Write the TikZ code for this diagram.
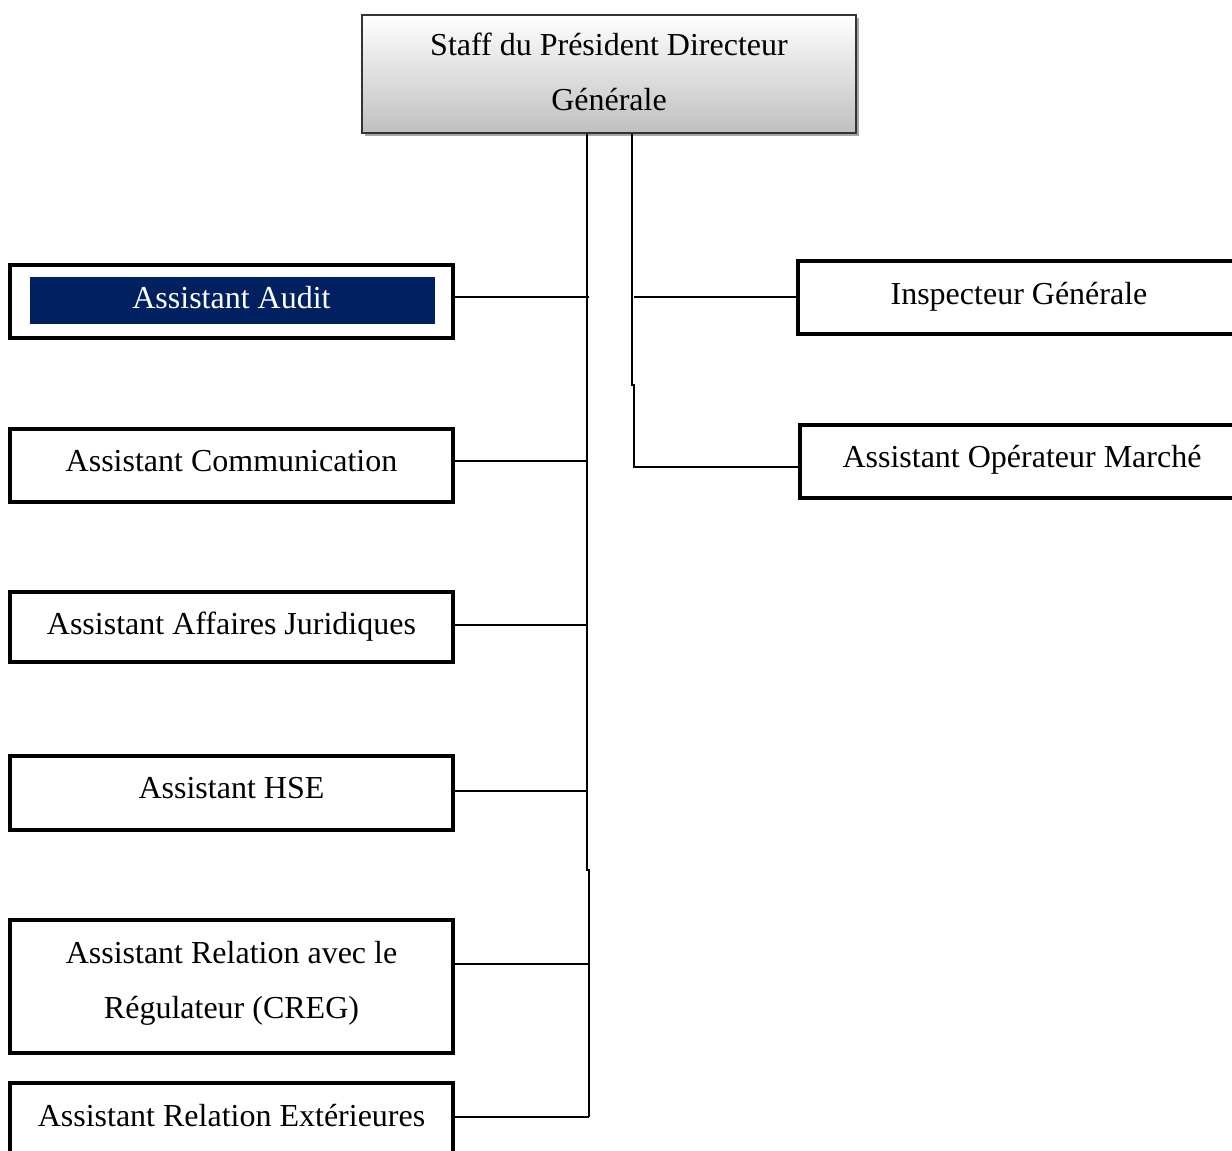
\documentclass[tikz,border=0pt]{standalone}
\usepackage{fontspec}
\setmainfont{Liberation Serif}
\usetikzlibrary{shadows}
\definecolor{navy}{HTML}{002060}
\begin{document}
\begin{tikzpicture}[x=1pt,y=-1pt,
  txt/.style={font=\fontsize{32}{55}\selectfont},
  unit/.style={draw=black, line width=4pt, fill=white, rectangle, inner sep=0pt,
    minimum width=443pt},
  caption/.style={txt, align=center, inner sep=0pt, yshift=4pt},
  link/.style={draw=black, line width=1.6pt}]
\useasboundingbox (0,0) rectangle (1232,1151);
\clip (0,0) rectangle (1232,1151);

% head of the staff
\node[draw=black!80, line width=2pt, top color=white, bottom color=black!25,
  minimum width=494pt, minimum height=118pt, inner sep=0pt,
  general shadow={fill=black!35, shadow xshift=3pt, shadow yshift=-3pt}]
  (top) at (609,74) {};
\node[caption, yshift=-2pt] (toplbl) at (top) {Staff du Président Directeur\\Générale};

% left column
\node[unit, minimum height=73pt] (audit) at (231.5,301.5) {};
\node[fill=navy, minimum width=405pt, minimum height=47pt, inner sep=0pt]
  (auditfill) at (232.5,300.5) {};
\node[caption, text=white] (auditlbl) at (audit) {Assistant Audit};

\node[unit, minimum height=73pt] (comm) at (231.5,465.5) {};
\node[caption] (commlbl) at (comm) {Assistant Communication};

\node[unit, minimum height=70pt] (jur) at (231.5,627) {};
\node[caption, yshift=-4pt] (jurlbl) at (jur) {Assistant Affaires Juridiques};

\node[unit, minimum height=74pt] (hse) at (231.5,793) {};
\node[caption, yshift=1pt] (hselbl) at (hse) {Assistant HSE};

\node[unit, minimum height=133pt] (creg) at (231.5,986.5) {};
\node[caption, yshift=-1pt] (creglbl) at (creg) {Assistant Relation avec le\\Régulateur (CREG)};

\node[unit, minimum height=74pt] (ext) at (231.5,1120) {};
\node[caption] (extlbl) at (ext) {Assistant Relation Extérieures};

% right column
\node[unit, minimum width=442pt, minimum height=73pt] (insp) at (1019,297.5) {};
\node[caption, yshift=-3pt] (insplbl) at (insp) {Inspecteur Générale};

\node[unit, minimum width=444pt, minimum height=73pt] (oper) at (1022,461.5) {};
\node[caption, yshift=-2pt] (operlbl) at (oper) {Assistant Opérateur Marché};

% trunk points
\coordinate (bendA) at (587,870);
\coordinate (bendB) at (589,870);
\coordinate (tAudit) at (589,297);
\coordinate (tComm) at (587,461);
\coordinate (tJur) at (587,625);
\coordinate (tHse) at (587,791);
\coordinate (tCreg) at (589,964);
\coordinate (tExt) at (589,1117);
\coordinate (rBendA) at (632,385);
\coordinate (rBendB) at (634,385);
\coordinate (rInsp) at (634,297);
\coordinate (rOper) at (634,467);

% left trunk and branches
\draw[link] ([xshift=-22pt]top.south) -- (bendA) -- (bendB) -- (tExt);
\draw[link] (tAudit) -- (tAudit -| audit.east);
\draw[link] (tComm) -- (tComm -| comm.east);
\draw[link] (tJur) -- (tJur -| jur.east);
\draw[link] (tHse) -- (tHse -| hse.east);
\draw[link] (tCreg) -- (tCreg -| creg.east);
\draw[link] (tExt) -- (tExt -| ext.east);

% right trunk and branches
\draw[link] ([xshift=23pt]top.south) -- (rBendA) -- (rBendB) -- (rOper) -- (rOper -| oper.west);
\draw[link] (rInsp) -- (rInsp -| insp.west);
\end{tikzpicture}
\end{document}
